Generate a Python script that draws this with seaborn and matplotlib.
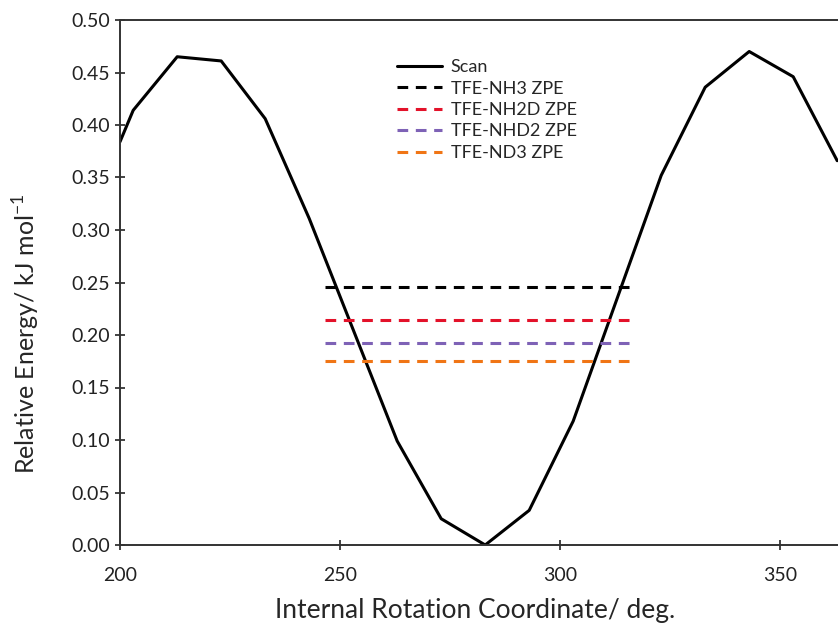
import numpy as np
import pandas as pd
import matplotlib
matplotlib.use('Agg')
import matplotlib.pyplot as plt
import seaborn as sns

# torsion scan (deg, kJ/mol)
angle = [200, 203, 213, 223, 233, 243, 253, 263, 273, 283, 293, 303, 313, 323, 333, 343, 353, 363]
energy = [0.384, 0.414, 0.465, 0.461, 0.406, 0.311, 0.205, 0.099, 0.025, 0.0, 0.033, 0.118, 0.235, 0.352, 0.436, 0.470, 0.446, 0.366]

# zero point energies drawn as flat lines
zpe_names = ['TFE-NH3 ZPE', 'TFE-NH2D ZPE', 'TFE-NHD2 ZPE', 'TFE-ND3 ZPE']
zpe_vals = [0.246, 0.214, 0.192, 0.175]
zpe_span = [246.6, 315.8]
zpe_cols = ['black', '#e3122a', '#7e62b6', '#f07515']

sns.set_style('ticks')
plt.rcParams['font.family'] = ['Lato', 'DejaVu Sans']

fig = plt.figure(figsize=(8.38, 6.28), dpi=100)
# axes run past the right edge, the picture is cropped there
ax = fig.add_axes([120/838, 83/628, 880/838, 525/628])

scan = pd.DataFrame({'angle': angle, 'energy': energy})
sns.lineplot(data=scan, x='angle', y='energy', color='black', lw=2.2, ax=ax, label='Scan')
for name, v, c in zip(zpe_names, zpe_vals, zpe_cols):
    ax.hlines(v, zpe_span[0], zpe_span[1], colors=c, linestyles=(0, (3.5, 2.5)), lw=2.2, label=name)

ax.set_xlim(200, 400)
ax.set_ylim(0, 0.5)
ax.set_xticks([200, 250, 300, 350])
ax.set_yticks(np.arange(0, 0.501, 0.05))
ax.yaxis.set_major_formatter(matplotlib.ticker.FormatStrFormatter('%.2f'))
ax.tick_params(direction='inout', length=7, width=1.2, labelsize=14, colors='#222222')
ax.tick_params(axis='x', pad=12)
for s in ax.spines.values():
    s.set_linewidth(1.4)
    s.set_color('#333333')

ax.set_xlabel('Internal Rotation Coordinate/ deg.', fontsize=19)
ax.xaxis.set_label_coords((475 - 120) / 880, -53 / 525)
ax.set_ylabel('Relative Energy/ kJ mol$^{\\mathregular{-1}}$', fontsize=18)
ax.yaxis.set_label_coords(-78 / 880, (545 - 334) / 525)

ax.legend(loc='upper left', bbox_to_anchor=(381/838, 1 - 43/628), bbox_transform=fig.transFigure,
          frameon=False, fontsize=13, handlelength=2.5, labelspacing=0.3, handletextpad=0.45)

fig.savefig('out.png', dpi=100)
